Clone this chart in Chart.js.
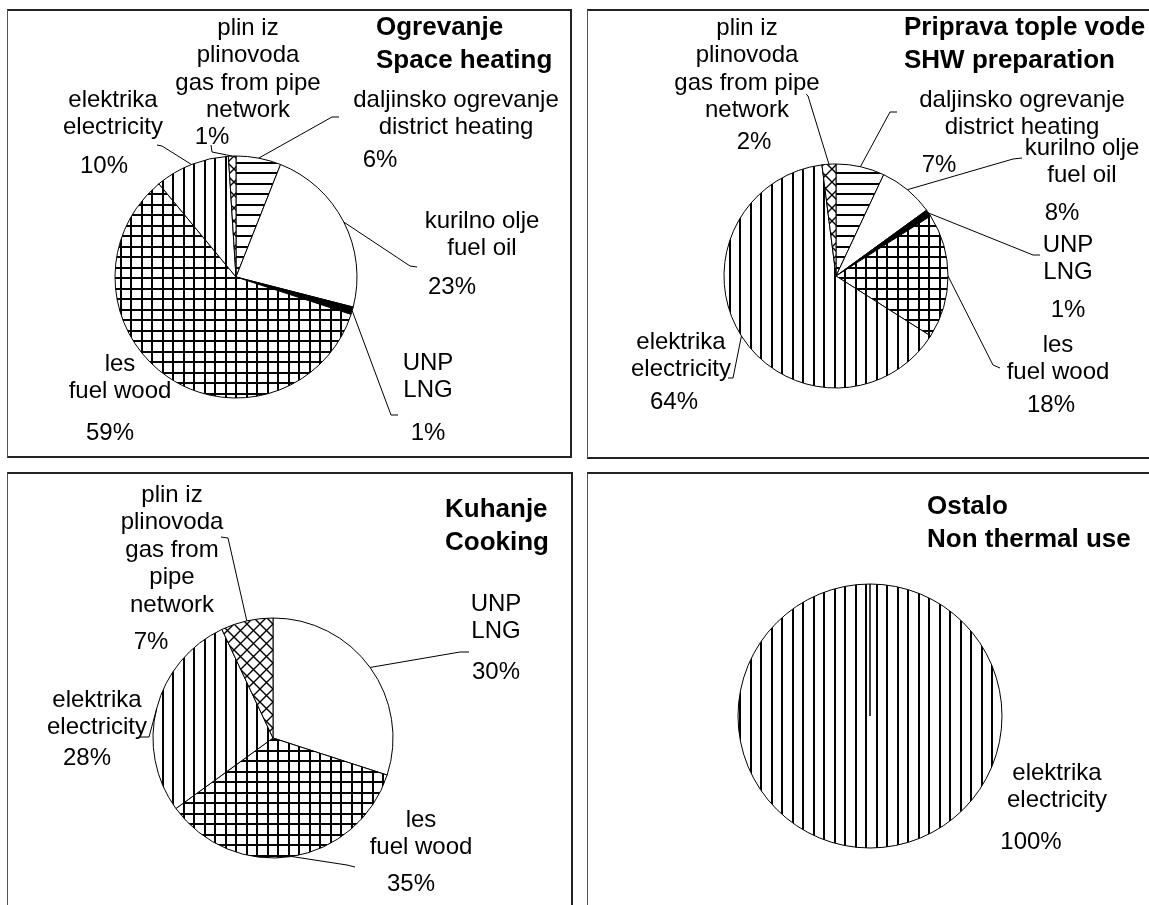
<!DOCTYPE html>
<html>
<head>
<meta charset="utf-8">
<script src="https://cdn.jsdelivr.net/npm/chart.js@4.4.1/dist/chart.umd.min.js"></script>
<style>
  body { margin: 0; background: #fff; width: 1149px; height: 905px; overflow: hidden; position: relative; }
  .panel { position: absolute; box-sizing: border-box; border: 2px solid #222; border-left: 1px solid #555; }
  canvas { position: absolute; left: 0; top: 0; }
</style>
</head>
<body>
<div class="panel" style="left:7px;top:9px;width:565px;height:449px"></div>
<div class="panel" style="left:587px;top:9px;width:600px;height:450px"></div>
<div class="panel" style="left:7px;top:472px;width:566px;height:500px"></div>
<div class="panel" style="left:587px;top:472px;width:600px;height:500px"></div>
<canvas id="heating" width="1149" height="905"></canvas>
<canvas id="hotwater" width="1149" height="905"></canvas>
<canvas id="cooking" width="1149" height="905"></canvas>
<canvas id="other" width="1149" height="905"></canvas>
<script>
// data, one set per pie (label lines split on |)
const heatingLabels = ["daljinsko ogrevanje|district heating", "kurilno olje|fuel oil", "UNP|LNG", "les|fuel wood", "elektrika|electricity", "plin iz|plinovoda|gas from pipe|network"];
const heatingValues = [6, 23, 1, 59, 10, 1];
const heatingFills = ["horiz", "white", "black", "grid", "vert", "diag"];

const hotwaterLabels = ["daljinsko ogrevanje|district heating", "kurilno olje|fuel oil", "UNP|LNG", "les|fuel wood", "elektrika|electricity", "plin iz|plinovoda|gas from pipe|network"];
const hotwaterValues = [7, 8, 1, 18, 64, 2];
const hotwaterFills = ["horiz", "white", "black", "grid", "vert", "diag"];

const cookingLabels = ["UNP|LNG", "les|fuel wood", "elektrika|electricity", "plin iz|plinovoda|gas from|pipe|network"];
const cookingValues = [30, 35, 28, 7];
const cookingFills = ["white", "grid", "vert", "diag"];

const otherLabels = ["elektrika|electricity"];
const otherValues = [100];
const otherFills = ["vert"];

const heatingTitle = ["Ogrevanje", "Space heating"];
const hotwaterTitle = ["Priprava tople vode", "SHW preparation"];
const cookingTitle = ["Kuhanje", "Cooking"];
const otherTitle = ["Ostalo", "Non thermal use"];

const FONT = '"Liberation Sans", Arial, sans-serif';
const LINE_H = 27.5;
const TITLE_H = 32.5;

// hatch fills like the old excel b/w patterns
function makeFill(kind) {
  if (kind === 'white') return '#fff';
  if (kind === 'black') return '#000';
  const c = document.createElement('canvas');
  const s = kind === 'diag' ? 13 : 21;
  c.width = s; c.height = s;
  const g = c.getContext('2d');
  g.fillStyle = '#fff';
  g.fillRect(0, 0, s, s);
  g.fillStyle = '#000';
  if (kind === 'horiz' || kind === 'grid') {
    g.fillRect(0, 4, s, 2);
    g.fillRect(0, 15, s, 2);
  }
  if (kind === 'vert' || kind === 'grid') {
    g.fillRect(4, 0, 2, s);
    g.fillRect(15, 0, 2, s);
  }
  if (kind === 'diag') {
    g.strokeStyle = '#000';
    g.lineWidth = 1.4;
    g.beginPath();
    g.moveTo(-1, -1); g.lineTo(s + 1, s + 1);
    g.moveTo(s + 1, -1); g.lineTo(-1, s + 1);
    g.stroke();
  }
  return g.createPattern(c, 'repeat');
}

// label boxes placed by hand like in the source, leader ends on the slice
function labelPlugin(lay) {
  return {
    id: 'sliceLabels',
    afterDatasetsDraw(chart) {
      const ctx = chart.ctx;
      const meta = chart.getDatasetMeta(0);
      const labels = chart.data.labels;
      const values = chart.data.datasets[0].data;
      ctx.save();
      ctx.fillStyle = '#000';
      ctx.strokeStyle = '#000';
      ctx.lineWidth = 1;
      ctx.textBaseline = 'middle';
      ctx.textAlign = 'center';
      ctx.font = '24px ' + FONT;
      lay.spots.forEach((s, i) => {
        labels[i].split('|').forEach((t, k) => ctx.fillText(t, s.x, s.y + k * LINE_H));
        ctx.fillText(values[i] + '%', s.px, s.py);
        if (s.lead) {
          const p = meta.data[i].getProps(['x', 'y', 'startAngle', 'endAngle', 'outerRadius'], true);
          const mid = (p.startAngle + p.endAngle) / 2;
          ctx.beginPath();
          ctx.moveTo(s.lead[0][0], s.lead[0][1]);
          ctx.lineTo(s.lead[1][0], s.lead[1][1]);
          ctx.lineTo(p.x + Math.cos(mid) * p.outerRadius, p.y + Math.sin(mid) * p.outerRadius);
          ctx.stroke();
        }
      });
      ctx.textAlign = 'left';
      ctx.font = 'bold 26px ' + FONT;
      lay.title.forEach((t, k) => ctx.fillText(t, lay.titleX, lay.titleY + k * TITLE_H));
      ctx.restore();
    }
  };
}

function drawPie(id, labels, values, fills, lay) {
  const W = 1149, H = 905;
  const pad = {
    left: Math.max(0, 2 * lay.cx - W),
    right: Math.max(0, W - 2 * lay.cx),
    top: Math.max(0, 2 * lay.cy - H),
    bottom: Math.max(0, H - 2 * lay.cy)
  };
  return new Chart(document.getElementById(id), {
    type: 'pie',
    data: {
      labels: labels,
      datasets: [{
        data: values,
        backgroundColor: fills.map(makeFill),
        borderColor: '#000',
        borderWidth: 1,
        radius: lay.r,
        offset: 0,
        hoverOffset: 0
      }]
    },
    options: {
      responsive: false,
      animation: false,
      events: [],
      layout: { padding: pad },
      plugins: {
        legend: { display: false },
        tooltip: { enabled: false }
      }
    },
    plugins: [labelPlugin(lay)]
  });
}

drawPie('heating', heatingLabels, heatingValues, heatingFills, {
  cx: 236, cy: 277, r: 121,
  title: heatingTitle, titleX: 376, titleY: 28,
  spots: [
    { x: 456, y: 100, px: 380, py: 160, lead: [[339, 117], [332, 117]] },
    { x: 482, y: 221, px: 452, py: 287, lead: [[417, 267], [410, 266]] },
    { x: 428, y: 363, px: 428, py: 433, lead: [[398, 415], [391, 415]] },
    { x: 120, y: 364, px: 110, py: 433, lead: null },
    { x: 113, y: 100, px: 104, py: 166, lead: [[157, 145], [162, 146]] },
    { x: 248, y: 28, px: 212, py: 137, lead: [[211, 145], [212, 152]] }
  ]
});

drawPie('hotwater', hotwaterLabels, hotwaterValues, hotwaterFills, {
  cx: 836, cy: 276, r: 112,
  title: hotwaterTitle, titleX: 904, titleY: 28,
  spots: [
    { x: 1022, y: 100, px: 939, py: 165, lead: [[897, 112], [890, 112]] },
    { x: 1082, y: 148, px: 1062, py: 213, lead: [[1022, 158], [1013, 159]] },
    { x: 1068, y: 245, px: 1068, py: 310, lead: [[1040, 255], [1033, 255]] },
    { x: 1058, y: 345, px: 1051, py: 405, lead: [[1000, 368], [993, 365]] },
    { x: 681, y: 342, px: 674, py: 402, lead: [[728, 378], [733, 378]] },
    { x: 747, y: 28, px: 754, py: 142, lead: [[806, 94], [808, 96]] }
  ]
});

drawPie('cooking', cookingLabels, cookingValues, cookingFills, {
  cx: 273, cy: 738, r: 120,
  title: cookingTitle, titleX: 445, titleY: 510,
  spots: [
    { x: 496, y: 604, px: 496, py: 672, lead: [[469, 652], [460, 652]] },
    { x: 421, y: 820, px: 411, py: 884, lead: [[355, 867], [347, 865]] },
    { x: 97, y: 700, px: 87, py: 758, lead: [[139, 737], [149, 737]] },
    { x: 172, y: 495, px: 151, py: 642, lead: [[221, 537], [228, 538]] }
  ]
});

drawPie('other', otherLabels, otherValues, otherFills, {
  cx: 870, cy: 716, r: 132,
  title: otherTitle, titleX: 927, titleY: 507,
  spots: [
    { x: 1057, y: 773, px: 1031, py: 842, lead: null }
  ]
});
</script>
</body>
</html>
